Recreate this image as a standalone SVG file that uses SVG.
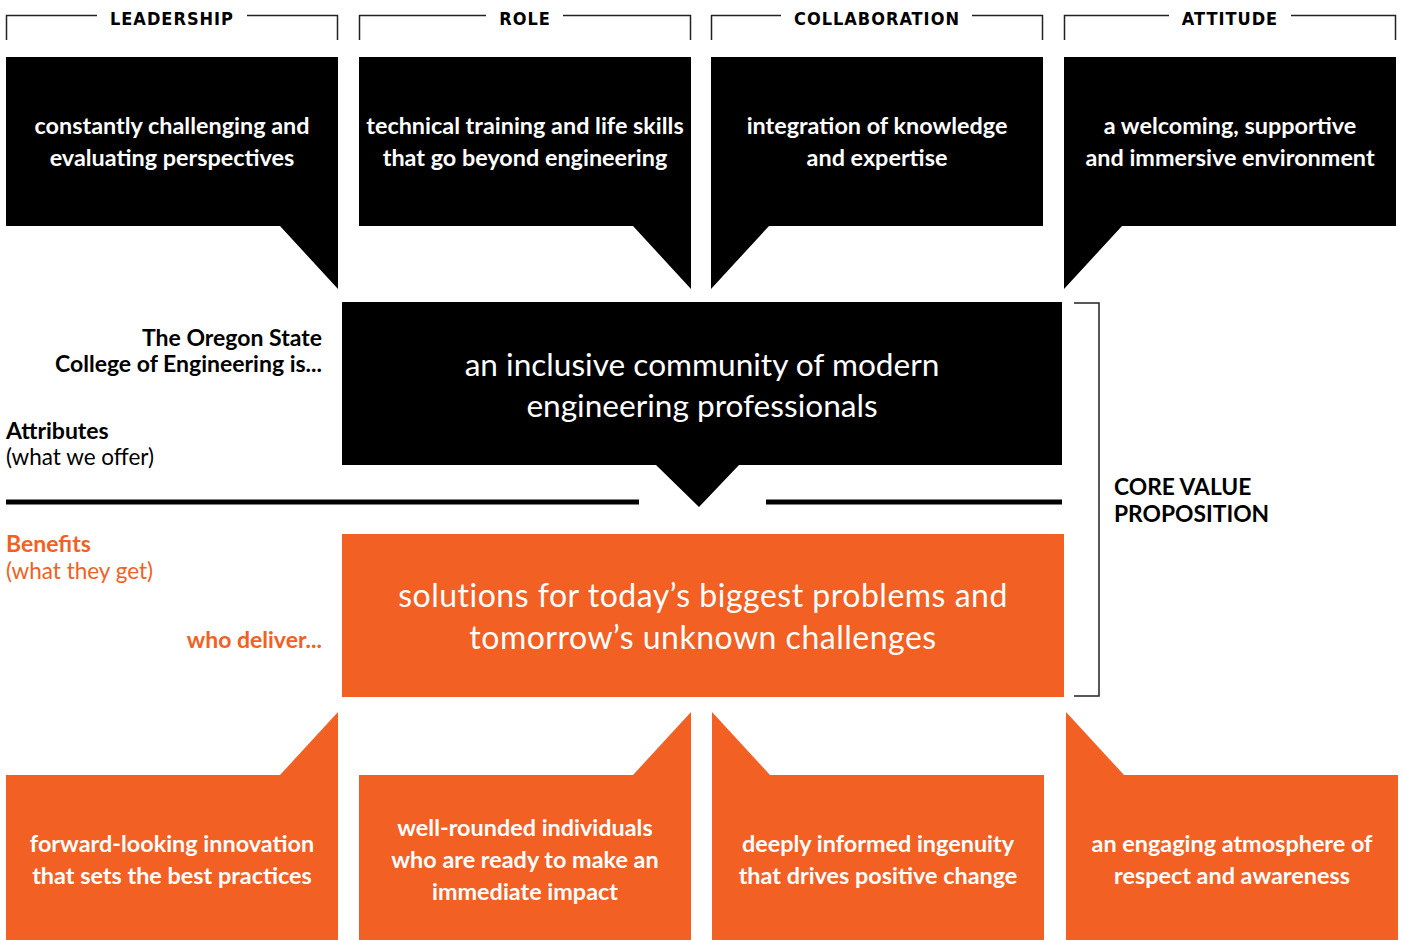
<svg xmlns="http://www.w3.org/2000/svg" width="1404" height="940" viewBox="0 0 1404 940">
<style>
.hdr{font-family:"DejaVu Sans Condensed","DejaVu Sans",sans-serif;font-weight:bold;font-size:18px;letter-spacing:1px;fill:#000;text-anchor:middle}
.brk{fill:none;stroke:#222;stroke-width:1.5}
.blk{fill:#000}
.org{fill:#F26024}
.bt{font-family:Lato,"Open Sans",sans-serif;font-weight:bold;font-size:23.4px;fill:#fff;text-anchor:middle}
.big{font-family:Lato,"Open Sans",sans-serif;font-size:31.6px;fill:#fff;text-anchor:middle}
.bigo{font-family:Lato,"Open Sans",sans-serif;font-size:32px;fill:#fff;text-anchor:middle;letter-spacing:0.5px}
.lb{font-family:Lato,"Open Sans",sans-serif;font-weight:bold;font-size:23px;fill:#000}
.lr{font-family:Lato,"Open Sans",sans-serif;font-size:22.5px;fill:#000}
.cv{font-family:Lato,"Open Sans",sans-serif;font-weight:bold;font-size:22.8px;fill:#000}
.o{fill:#F26024}
.r{text-anchor:end}
</style>

<g id="headers">
  <g id="hdr-leadership">
    <path class="brk" d="M6.5,40 V15.5 H97 M247,15.5 H337.5 V40"/>
    <text class="hdr" x="172" y="24.5">LEADERSHIP</text>
  </g>
  <g id="hdr-role">
    <path class="brk" d="M359.5,40 V15.5 H486 M563,15.5 H690.5 V40"/>
    <text class="hdr" x="525" y="24.5">ROLE</text>
  </g>
  <g id="hdr-collaboration">
    <path class="brk" d="M711.5,40 V15.5 H781 M972,15.5 H1042.5 V40"/>
    <text class="hdr" x="877" y="24.5">COLLABORATION</text>
  </g>
  <g id="hdr-attitude">
    <path class="brk" d="M1064.5,40 V15.5 H1169 M1291,15.5 H1395.5 V40"/>
    <text class="hdr" x="1230" y="24.5">ATTITUDE</text>
  </g>
</g>

<g id="attr-leadership">
  <path class="blk" d="M6,57 H338 V289 L280,226 H6 Z"/>
  <text class="bt" x="172" y="134">constantly challenging and</text>
  <text class="bt" x="172" y="166">evaluating perspectives</text>
</g>
<g id="attr-role">
  <path class="blk" d="M359,57 H691 V289 L633,226 H359 Z"/>
  <text class="bt" x="525" y="134">technical training and life skills</text>
  <text class="bt" x="525" y="166">that go beyond engineering</text>
</g>
<g id="attr-collaboration">
  <path class="blk" d="M711,57 H1043 V226 H769 L711,289 Z"/>
  <text class="bt" x="877" y="134">integration of knowledge</text>
  <text class="bt" x="877" y="166">and expertise</text>
</g>
<g id="attr-attitude">
  <path class="blk" d="M1064,57 H1396 V226 H1122 L1064,289 Z"/>
  <text class="bt" x="1230" y="134">a welcoming, supportive</text>
  <text class="bt" x="1230" y="166">and immersive environment</text>
</g>

<g id="labels">
  <text class="lb r" x="322" y="346">The Oregon State</text>
  <text class="lb r" x="322" y="372">College of Engineering is...</text>
  <text class="lb" x="6" y="439">Attributes</text>
  <text class="lr" x="6" y="465">(what we offer)</text>
  <text class="lb o" x="6" y="552">Benefits</text>
  <text class="lr o" x="6" y="579">(what they get)</text>
  <text class="lb o r" x="322" y="648">who deliver...</text>
  <text class="cv" x="1114" y="495">CORE VALUE</text>
  <text class="cv" x="1114" y="522">PROPOSITION</text>
</g>

<g id="core-attribute">
  <path class="blk" d="M342,302 H1062 V465 H739 L699,507 L656,465 H342 Z"/>
  <text class="big" x="702" y="376">an inclusive community of modern</text>
  <text class="big" x="702" y="417">engineering professionals</text>
</g>

<g id="core-benefit">
  <rect class="org" x="342" y="534" width="722" height="163"/>
  <text class="bigo" x="703" y="607">solutions for today’s biggest problems and</text>
  <text class="bigo" x="703" y="649">tomorrow’s unknown challenges</text>
</g>

<g id="connectors">
  <rect x="6" y="499.5" width="633" height="5" fill="#000"/>
  <rect x="766" y="499.5" width="296" height="5" fill="#000"/>
  <path class="brk" d="M1074,303 H1099 V696 H1074"/>
</g>

<g id="ben-leadership">
  <path class="org" d="M338,712 V940 H6 V775 H280 Z"/>
  <text class="bt" x="172" y="852">forward-looking innovation</text>
  <text class="bt" x="172" y="884">that sets the best practices</text>
</g>
<g id="ben-role">
  <path class="org" d="M691,712 V940 H359 V775 H633 Z"/>
  <text class="bt" x="525" y="836">well-rounded individuals</text>
  <text class="bt" x="525" y="868">who are ready to make an</text>
  <text class="bt" x="525" y="900">immediate impact</text>
</g>
<g id="ben-collaboration">
  <path class="org" d="M712,712 L770,775 H1044 V940 H712 Z"/>
  <text class="bt" x="878" y="852">deeply informed ingenuity</text>
  <text class="bt" x="878" y="884">that drives positive change</text>
</g>
<g id="ben-attitude">
  <path class="org" d="M1066,712 L1124,775 H1398 V940 H1066 Z"/>
  <text class="bt" x="1232" y="852">an engaging atmosphere of</text>
  <text class="bt" x="1232" y="884">respect and awareness</text>
</g>
</svg>
